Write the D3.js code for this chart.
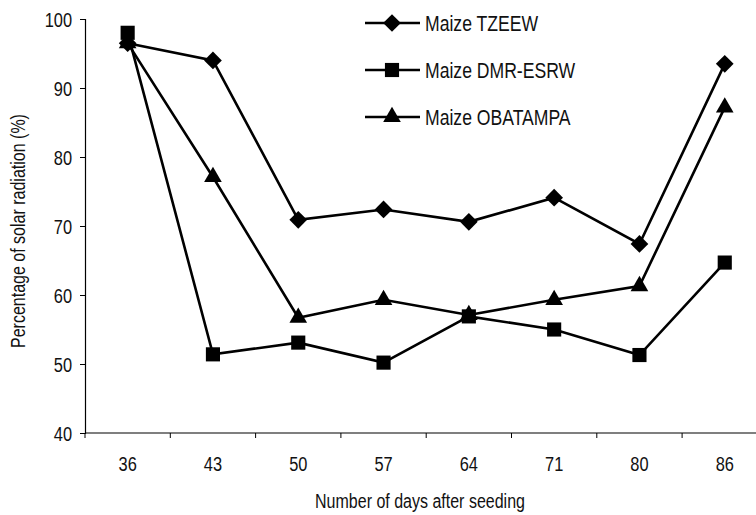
<!DOCTYPE html>
<html>
<head>
<meta charset="utf-8">
<script src="https://cdn.jsdelivr.net/npm/d3@7"></script>
<style>
  html, body { margin: 0; padding: 0; background: #fff; }
  svg { display: block; }
  text { font-family: "Liberation Sans", Arial, sans-serif; fill: #111; }
</style>
</head>
<body>
<div id="chart"></div>
<script>
// days after seeding (categories) and the three maize series (%)
const days = ["36", "43", "50", "57", "64", "71", "80", "86"];
const tzeew = [96.5, 94, 70.9, 72.4, 70.6, 74.1, 67.4, 93.5];
const dmrEsrw = [98, 51.4, 53.1, 50.2, 56.9, 55.0, 51.3, 64.7];
const obatampa = [96.5, 77.1, 56.7, 59.3, 57.1, 59.3, 61.3, 87.2];
const yTicks = [40, 50, 60, 70, 80, 90, 100];

const series = [
  { name: "Maize TZEEW", values: tzeew, symbol: d3.symbolDiamond2 },
  { name: "Maize DMR-ESRW", values: dmrEsrw, symbol: d3.symbolSquare },
  { name: "Maize OBATAMPA", values: obatampa, symbol: d3.symbolTriangle }
];

const width = 756, height = 515;
const plotLeft = 85, plotTop = 19, plotBottom = 433;
const band = 85.3;
const squeeze = 0.8;   // the original uses a condensed face

const svg = d3.select("#chart").append("svg")
  .attr("width", width)
  .attr("height", height);

const x = d3.scaleBand().domain(days).range([plotLeft, plotLeft + band * days.length]);
const y = d3.scaleLinear().domain([40, 100]).range([plotBottom, plotTop]);

// place text at (px, py) and squeeze it sideways
function narrow(sel, px, py, rot) {
  return sel.attr("x", 0).attr("y", 0)
    .attr("transform", (d, i) => {
      const tx = typeof px === "function" ? px(d, i) : px;
      const ty = typeof py === "function" ? py(d, i) : py;
      return `translate(${tx},${ty})` + (rot ? ` rotate(${rot})` : "") + ` scale(${squeeze},1)`;
    });
}

// ── axes ────────────────────────────────────────────
const yAxis = svg.append("g")
  .attr("transform", `translate(${plotLeft},0)`)
  .call(d3.axisLeft(y).tickValues(yTicks).tickSize(5).tickPadding(8));
yAxis.select(".domain").attr("stroke", "#000").attr("stroke-width", 1.2);
yAxis.selectAll(".tick line").attr("stroke", "#000");
yAxis.selectAll(".tick text")
  .style("font-size", "20.5px")
  .attr("dy", "0.36em")
  .call(narrow, -13, 0);

// x axis line runs to the edge of the picture
svg.append("line")
  .attr("x1", plotLeft).attr("x2", width)
  .attr("y1", plotBottom).attr("y2", plotBottom)
  .attr("stroke", "#000").attr("stroke-width", 1.2);

// tick marks sit between the categories
svg.selectAll(".xtick").data(days)
  .join("line")
  .attr("class", "xtick")
  .attr("x1", d => x(d)).attr("x2", d => x(d))
  .attr("y1", plotBottom).attr("y2", plotBottom + 5)
  .attr("stroke", "#000");

svg.selectAll(".xlabel").data(days)
  .join("text")
  .attr("class", "xlabel")
  .attr("text-anchor", "middle")
  .style("font-size", "20.5px")
  .text(d => d)
  .call(narrow, d => x(d) + x.bandwidth() / 2, 470.5);

svg.append("text")
  .attr("text-anchor", "middle")
  .style("font-size", "20px")
  .text("Number of days after seeding")
  .call(narrow, 420, 508);

svg.append("text")
  .attr("text-anchor", "middle")
  .style("font-size", "20px")
  .text("Percentage of solar radiation (%)")
  .call(narrow, 25, 231, -90);

// ── lines and markers ───────────────────────────────
const cx = d => x(d) + x.bandwidth() / 2;
const line = d3.line()
  .x((v, i) => cx(days[i]))
  .y(v => y(v));

const groups = svg.selectAll(".series").data(series)
  .join("g")
  .attr("class", "series");

groups.append("path")
  .attr("d", d => line(d.values))
  .attr("fill", "none")
  .attr("stroke", "#000")
  .attr("stroke-width", 2.6);

const symSize = { "Maize TZEEW": 200, "Maize DMR-ESRW": 200, "Maize OBATAMPA": 135 };

groups.selectAll("path.mark").data(d => d.values.map((v, i) => ({ v, i, s: d })))
  .join("path")
  .attr("class", "mark")
  .attr("transform", d => `translate(${cx(days[d.i])},${y(d.v)})`)
  .attr("d", d => d3.symbol().type(d.s.symbol).size(symSize[d.s.name])())
  .attr("fill", "#000");

// ── legend ──────────────────────────────────────────
const legend = svg.selectAll(".legend").data(series)
  .join("g")
  .attr("class", "legend")
  .attr("transform", (d, i) => `translate(0,${23 + i * 47})`);

legend.append("line")
  .attr("x1", 365).attr("x2", 420)
  .attr("stroke", "#000").attr("stroke-width", 2.6);

legend.append("path")
  .attr("transform", "translate(392,0)")
  .attr("d", d => d3.symbol().type(d.symbol).size(symSize[d.name])())
  .attr("fill", "#000");

legend.append("text")
  .attr("dy", "0.36em")
  .style("font-size", "22px")
  .text(d => d.name)
  .call(narrow, 425, 0);
</script>
</body>
</html>
